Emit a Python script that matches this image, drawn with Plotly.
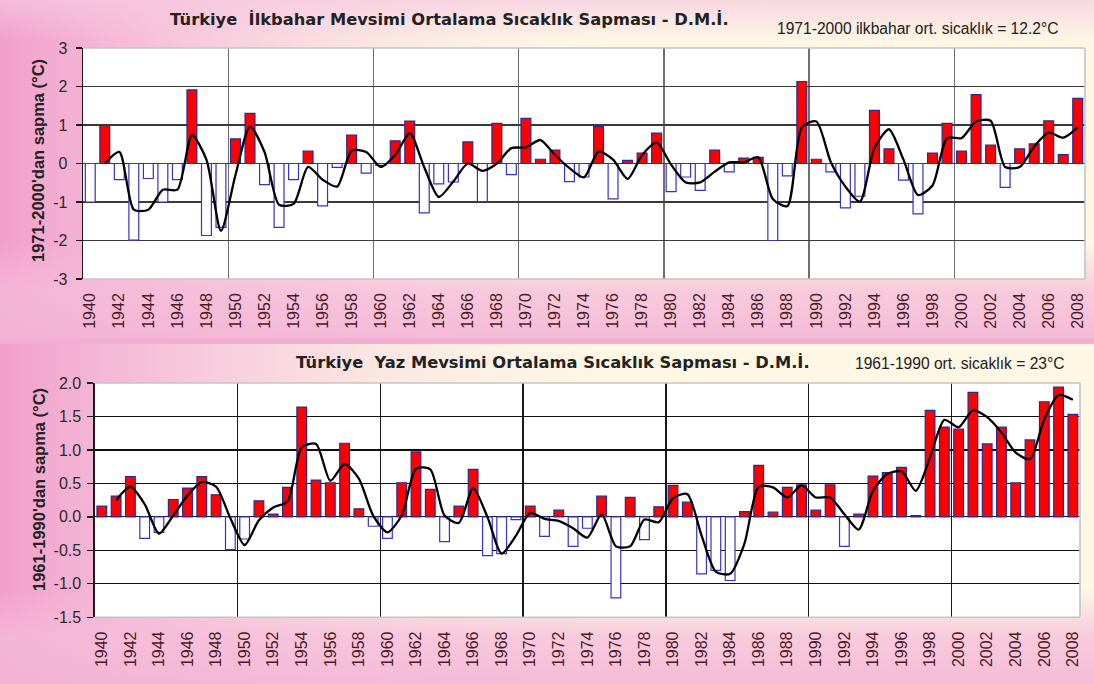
import base64
import plotly.graph_objects as go

# ---------------- data ----------------
years = list(range(1940, 2009))

spring_dev = [
    -1.00, 0.98, -0.42, -1.99, -0.39, -1.00, -0.42, 1.91, -1.87, -1.66,
    0.64, 1.30, -0.55, -1.66, -0.42, 0.32, -1.10, -0.10, 0.74, -0.25,
    -0.05, 0.59, 1.10, -1.28, -0.53, -0.48, 0.56, -0.99, 1.04, -0.29,
    1.17, 0.11, 0.35, -0.47, -0.35, 0.96, -0.92, 0.08, 0.27, 0.79,
    -0.73, -0.35, -0.70, 0.35, -0.22, 0.14, 0.16, -2.00, -0.32, 2.13,
    0.11, -0.22, -1.15, -0.85, 1.38, 0.38, -0.43, -1.31, 0.27, 1.04,
    0.32, 1.79, 0.48, -0.62, 0.38, 0.51, 1.11, 0.23, 1.69,
]
spring_smooth_years = list(range(1941, 2009))
spring_smooth = [
    0.00, 0.30, -1.20, -1.20, -0.68, -0.68, 0.74, 0.10, -1.75,
    -0.30, 0.96, 0.30, -1.07, -1.05, -0.09, -0.42, -0.60, 0.33, 0.30,
    -0.09, 0.22, 0.79, -0.10, -0.87, -0.47, 0.00, -0.19, 0.00, 0.40,
    0.42, 0.61, 0.22, -0.12, -0.36, 0.31, 0.10, -0.40, 0.22, 0.54,
    -0.03, -0.49, -0.49, -0.21, 0.03, 0.03, 0.16, -0.92, -1.11, 0.94,
    1.09, 0.03, -0.60, -0.99, 0.40, 0.89, 0.10, -0.82, -0.57, 0.66,
    0.66, 1.09, 1.11, -0.09, -0.09, 0.44, 0.80, 0.67, 0.94,
]

summer_dev = [
    0.16, 0.31, 0.60, -0.32, -0.23, 0.26, 0.43, 0.60, 0.33, -0.49,
    -0.33, 0.24, 0.04, 0.44, 1.64, 0.55, 0.51, 1.10, 0.12, -0.14,
    -0.32, 0.51, 0.97, 0.41, -0.37, 0.16, 0.71, -0.58, -0.55, -0.04,
    0.16, -0.29, 0.10, -0.44, -0.17, 0.31, -1.21, 0.29, -0.34, 0.15,
    0.47, 0.22, -0.85, -0.80, -0.95, 0.08, 0.77, 0.07, 0.44, 0.48,
    0.10, 0.48, -0.44, 0.04, 0.61, 0.66, 0.74, 0.02, 1.59, 1.34,
    1.31, 1.86, 1.09, 1.34, 0.51, 1.15, 1.72, 1.94, 1.53,
]
summer_smooth_years = list(range(1941, 2009))
summer_smooth = [
    0.25, 0.45, 0.19, -0.25, 0.02, 0.32, 0.52, 0.45, -0.02,
    -0.42, -0.05, 0.14, 0.23, 1.04, 1.09, 0.54, 0.79, 0.57, 0.02,
    -0.23, 0.02, 0.72, 0.71, 0.02, -0.09, 0.43, 0.00, -0.55, -0.28,
    0.06, -0.03, -0.06, -0.17, -0.31, 0.04, -0.44, -0.44, -0.04, -0.08,
    0.28, 0.34, -0.28, -0.82, -0.85, -0.40, 0.45, 0.44, 0.29, 0.47,
    0.29, 0.29, 0.04, -0.19, 0.39, 0.64, 0.68, 0.39, 0.89, 1.45,
    1.34, 1.59, 1.49, 1.26, 0.96, 0.86, 1.46, 1.82, 1.75,
]

x_tick_years = years[::2]
spring_yticks = [-3, -2, -1, 0, 1, 2, 3]
summer_yticks = [-1.5, -1.0, -0.5, 0.0, 0.5, 1.0, 1.5, 2.0]

title_top = "Türkiye\u00a0 İlkbahar Mevsimi Ortalama Sıcaklık Sapması - D.M.İ."
note_top = "1971-2000 ilkbahar ort. sicaklık = 12.2°C"
ytitle_top = "1971-2000'dan sapma (°C)"
title_bot = "Türkiye\u00a0 Yaz Mevsimi Ortalama Sıcaklık Sapması - D.M.İ."
note_bot = "1961-1990 ort. sicaklık = 23°C"
ytitle_bot = "1961-1990'dan sapma (°C)"

# ---------------- styling ----------------
W, H = 1094, 684
RED = "#ff0000"
POS_EDGE = "#2a2a8e"
NEG_EDGE = "#3434c0"
LABEL_FONT = "Liberation Sans, Arial, sans-serif"
TITLE_FONT = "DejaVu Sans, Verdana, sans-serif"

# plot areas in pixels (left, top, right, bottom)
TOP_BOX = (83, 48, 1085, 279)
BOT_BOX = (94.7, 383, 1080, 617.3)


def px(v):
    return v / W


def py(v):
    return 1 - v / H


def white_rect(box):
    l, t, r, b = box
    return f"<rect x='{l}' y='{t}' width='{r - l}' height='{b - t}' fill='#ffffff'/>"


svg = f"""<svg xmlns='http://www.w3.org/2000/svg' width='{W}' height='{H}'>
<defs>
<linearGradient id='h' x1='0' x2='1' y1='0' y2='0'>
<stop offset='0' stop-color='#f19fcc' stop-opacity='1'/>
<stop offset='0.22' stop-color='#f6bddb' stop-opacity='0.65'/>
<stop offset='0.55' stop-color='#fbe6ea' stop-opacity='0'/>
</linearGradient>
<linearGradient id='v' x1='0' x2='0' y1='0' y2='1'>
<stop offset='0' stop-color='#f6bcd9' stop-opacity='0'/>
<stop offset='0.72' stop-color='#f6bcd9' stop-opacity='0'/>
<stop offset='0.86' stop-color='#f6bcd9' stop-opacity='0.75'/>
<stop offset='1' stop-color='#f4b4d5' stop-opacity='0.9'/>
</linearGradient>
<linearGradient id='t' x1='0' x2='0' y1='0' y2='1'>
<stop offset='0' stop-color='#f7c9e0' stop-opacity='0.7'/>
<stop offset='0.12' stop-color='#f7c9e0' stop-opacity='0'/>
</linearGradient>
</defs>
<rect x='0' y='0' width='{W}' height='{H}' fill='#f3acd2'/>
<rect x='0' y='0' width='{W}' height='338' fill='#fdf7e4'/>
<rect x='0' y='0' width='{W}' height='338' fill='url(#h)'/>
<rect x='0' y='0' width='{W}' height='338' fill='url(#v)'/>
<rect x='0' y='0' width='{W}' height='338' fill='url(#t)'/>
<rect x='0' y='344' width='{W}' height='340' fill='#fdf7e4'/>
<rect x='0' y='344' width='{W}' height='340' fill='url(#h)'/>
<rect x='0' y='344' width='{W}' height='340' fill='url(#v)'/>
{white_rect(TOP_BOX)}
{white_rect(BOT_BOX)}
</svg>"""
bg_src = "data:image/svg+xml;base64," + base64.b64encode(svg.encode("utf-8")).decode("ascii")


def bar_trace(vals, xa, ya):
    return go.Bar(
        x=years, y=vals, xaxis=xa, yaxis=ya,
        marker=dict(
            color=[RED if v >= 0 else "white" for v in vals],
            line=dict(color=[POS_EDGE if v >= 0 else NEG_EDGE for v in vals], width=1.2),
        ),
        showlegend=False, hoverinfo="x+y",
    )


def line_trace(xs, vals, xa, ya):
    return go.Scatter(
        x=xs, y=vals, xaxis=xa, yaxis=ya, mode="lines",
        line=dict(color="black", width=2.3, shape="spline", smoothing=0.7),
        showlegend=False, hoverinfo="x+y",
    )


fig = go.Figure()
fig.add_trace(bar_trace(spring_dev, "x", "y"))
fig.add_trace(line_trace(spring_smooth_years, spring_smooth, "x", "y"))
fig.add_trace(bar_trace(summer_dev, "x2", "y2"))
fig.add_trace(line_trace(summer_smooth_years, summer_smooth, "x2", "y2"))

decade_bounds = [y - 0.5 for y in years if y % 10 == 0 and y > 1940]


def xaxis_cfg(domain, anchor, gridcolor):
    return dict(
        domain=domain, anchor=anchor, range=[1939.5, 2008.5], automargin=False,
        tickmode="array", tickvals=x_tick_years, ticktext=[str(v) for v in x_tick_years],
        tickangle=-90, tickfont=dict(family=LABEL_FONT, size=16, color="#4a1a26"),
        ticks="", showgrid=False, zeroline=False, showline=False,
        ticklabelstandoff=10,
        minor=dict(tickmode="array", tickvals=decade_bounds, showgrid=True,
                   gridcolor=gridcolor, gridwidth=1.4, ticks=""),
        fixedrange=True,
    )


def yaxis_cfg(domain, anchor, rng, tickvals, ticktext, gridcolor, standoff):
    return dict(
        domain=domain, anchor=anchor, range=rng, automargin=False,
        tickmode="array", tickvals=tickvals, ticktext=ticktext,
        tickfont=dict(family=LABEL_FONT, size=16, color="#2a2a2a"),
        showgrid=True, gridcolor=gridcolor, gridwidth=1.2, zeroline=False,
        showline=True, linecolor="#1a1a1a", linewidth=1.3,
        ticks="outside", ticklen=6, tickcolor="#1a1a1a", tickwidth=1.3,
        ticklabelstandoff=standoff, fixedrange=True,
    )


top_x = [px(TOP_BOX[0]), px(TOP_BOX[2])]
top_y = [py(TOP_BOX[3]), py(TOP_BOX[1])]
bot_x = [px(BOT_BOX[0]), px(BOT_BOX[2])]
bot_y = [py(BOT_BOX[3]), py(BOT_BOX[1])]

fig.update_layout(
    width=W, height=H, autosize=False,
    margin=dict(l=0, r=0, t=0, b=0, autoexpand=False),
    paper_bgcolor="#fbe3ec", plot_bgcolor="white",
    bargap=0.32,
    xaxis=xaxis_cfg(top_x, "y", "#6e6e6e"),
    yaxis=yaxis_cfg(top_y, "x", [-3, 3], spring_yticks, [str(v) for v in spring_yticks], "#3a3a3a", 5),
    xaxis2=xaxis_cfg(bot_x, "y2", "#1a1a1a"),
    yaxis2=yaxis_cfg(bot_y, "x2", [-1.5, 2.0], summer_yticks, [f"{v:.1f}" for v in summer_yticks], "#111111", 3),
    images=[dict(source=bg_src, xref="paper", yref="paper", x=0, y=1, sizex=1, sizey=1,
                 sizing="stretch", xanchor="left", yanchor="top", layer="below")],
)

# plot-area frame (light) on top, right, bottom
for xa, ya in (("x", "y"), ("x2", "y2")):
    for (x0, y0, x1, y1) in ((0, 1, 1, 1), (1, 0, 1, 1), (0, 0, 1, 0)):
        fig.add_shape(type="line", xref=f"{xa} domain", yref=f"{ya} domain",
                      x0=x0, y0=y0, x1=x1, y1=y1,
                      line=dict(color="#c4c4c4", width=1.6), layer="above")

ann = []
ann.append(dict(text=f"<b>{title_top}</b>", x=px(449), y=py(20), xref="paper", yref="paper",
                xanchor="center", yanchor="middle", showarrow=False,
                font=dict(family=TITLE_FONT, size=16.3, color="#222222")))
ann.append(dict(text=note_top, x=px(775), y=py(29), xref="paper", yref="paper",
                xanchor="left", yanchor="middle", showarrow=False,
                font=dict(family=LABEL_FONT, size=15.6, color="#222222")))
ann.append(dict(text=f"<b>{ytitle_top}</b>", x=px(38), y=py(161), xref="paper", yref="paper",
                xanchor="center", yanchor="middle", showarrow=False, textangle=-90,
                font=dict(family=LABEL_FONT, size=16.5, color="#222222")))
ann.append(dict(text=f"<b>{title_bot}</b>", x=px(553), y=py(362), xref="paper", yref="paper",
                xanchor="center", yanchor="middle", showarrow=False,
                font=dict(family=TITLE_FONT, size=16.3, color="#222222")))
ann.append(dict(text=note_bot, x=px(853), y=py(363), xref="paper", yref="paper",
                xanchor="left", yanchor="middle", showarrow=False,
                font=dict(family=LABEL_FONT, size=15.6, color="#222222")))
ann.append(dict(text=f"<b>{ytitle_bot}</b>", x=px(39), y=py(490), xref="paper", yref="paper",
                xanchor="center", yanchor="middle", showarrow=False, textangle=-90,
                font=dict(family=LABEL_FONT, size=16.5, color="#222222")))
fig.update_layout(annotations=ann)

fig.write_html(
    "out.html",
    config={"displayModeBar": False, "staticPlot": True},
    post_script="document.body.style.margin='0';document.body.style.overflow='hidden';",
)
